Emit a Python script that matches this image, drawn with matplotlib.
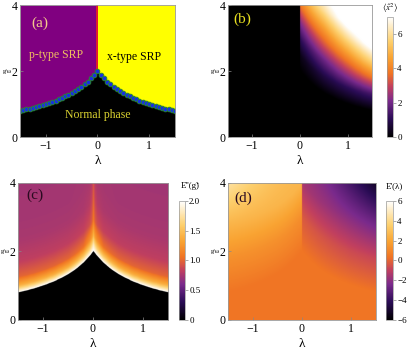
import numpy as np
import matplotlib
matplotlib.use("Agg")
import matplotlib.pyplot as plt
from matplotlib.colors import LinearSegmentedColormap

plt.rcParams['font.family'] = ['Liberation Serif', 'DejaVu Serif']
plt.rcParams['mathtext.fontset'] = 'stix'

# phase boundary g_c(lambda), lambda >= 0 (mirror for lambda < 0)
lam_half = [0, 0.0625, 0.125, 0.1875, 0.25, 0.3125, 0.375, 0.4375, 0.5, 0.5625, 0.625,
            0.6875, 0.75, 0.8125, 0.875, 0.9375, 1.0, 1.0625, 1.125, 1.1875, 1.25,
            1.3125, 1.375, 1.4375, 1.5]
g_half = [2.00, 1.88, 1.78, 1.68, 1.60, 1.52, 1.45, 1.39, 1.33, 1.28, 1.23,
          1.19, 1.14, 1.10, 1.07, 1.03, 1.00, 0.97, 0.94, 0.91, 0.89,
          0.86, 0.84, 0.82, 0.80]

# (b) <x^2> in the x-type phase: rows = height above boundary, cols = lambda
b_lam = [0, 0.5, 1.0, 1.5]
b_h = [0, 0.5, 1.0, 1.5, 2.0, 2.5, 3.2]
b_val = [[0.0, 0.0, 0.0, 0.0],
         [0.3, 0.8, 1.1, 1.4],
         [1.1, 1.9, 2.8, 3.7],
         [2.2, 3.3, 4.4, 5.7],
         [3.7, 4.6, 6.0, 7.4],
         [5.0, 6.0, 7.5, 8.5],
         [6.5, 7.5, 8.5, 9.5]]

# (c) E''(g): rows = height above boundary, cols = |lambda|
c_lam = [0, 0.03, 0.08, 0.2, 0.5, 1.5]
c_h = [0, 0.2, 0.45, 0.9, 1.5, 2.1, 3.3]
c_val = [[2.0, 2.0, 2.0, 2.0, 2.0, 2.0],
         [1.8, 1.7, 1.6, 1.5, 1.4, 1.4],
         [1.45, 1.3, 1.2, 1.05, 1.0, 1.0],
         [1.1, 0.97, 0.9, 0.85, 0.83, 0.83],
         [1.0, 0.87, 0.8, 0.77, 0.76, 0.76],
         [0.92, 0.8, 0.76, 0.75, 0.74, 0.74],
         [0.88, 0.77, 0.75, 0.74, 0.73, 0.73]]

# (d) E'(lambda): rows = height above boundary, cols = lambda
d_lam = [-1.5, -1.0, -0.5, -0.001, 0.001, 0.5, 1.0, 1.5]
d_h = [0, 1.0, 2.0, 3.2]
d_val = [[0.4, 0.4, 0.4, 0.4, 0.4, 0.4, 0.4, 0.4],
         [1.3, 1.3, 1.3, 1.2, -0.3, -0.5, -0.7, -0.8],
         [2.6, 2.6, 2.6, 2.6, -1.5, -1.8, -2.2, -2.6],
         [4.5, 3.8, 3.2, 2.8, -2.0, -2.8, -4.0, -5.2]]

cb_ticks_b = [0, 2, 4, 6]
cb_ticks_c = [0, 0.5, 1.0, 1.5, 2.0]
cb_ticks_d = [-6, -4, -2, 0, 2, 4, 6]

sunset = LinearSegmentedColormap.from_list('sunset', [
    (0.0, '#000000'), (0.15, '#2a0c55'), (0.3, '#7a2a8c'), (0.42, '#c2405e'),
    (0.53, '#f07424'), (0.66, '#f9a332'), (0.8, '#fdd06e'), (1.0, '#ffffff')])

lam_b = np.array(lam_half)
g_b = np.array(g_half)
lam_full = np.concatenate([-lam_b[::-1], lam_b[1:]])
g_full = np.concatenate([g_b[::-1], g_b[1:]])

# grid for the density plots
L, G = np.meshgrid(np.linspace(-1.5, 1.5, 601), np.linspace(0, 4, 501))
H = G - np.interp(np.abs(L), lam_b, g_b)


def table_field(lam_coord, cols, rows, table):
    table = np.array(table)
    per_col = np.array([np.interp(H, rows, table[:, j]) for j in range(len(cols))])
    t = np.interp(lam_coord, cols, np.arange(len(cols)))
    i0 = np.clip(np.floor(t).astype(int), 0, len(cols) - 2)
    w = t - i0
    a = np.take_along_axis(per_col, i0[None], 0)[0]
    b = np.take_along_axis(per_col, (i0 + 1)[None], 0)[0]
    return a * (1 - w) + b * w


field_b = np.where(L > 0, table_field(L, b_lam, b_h, b_val), 0.0)
field_c = np.where(H > 0, table_field(np.abs(L), c_lam, c_h, c_val), 0.0)
field_d = table_field(L, d_lam, d_h, d_val)

fig = plt.figure(figsize=(4.07, 3.48), dpi=100)
ax_a = fig.add_axes([0.0491, 0.6063, 0.3808, 0.3793])
ax_b = fig.add_axes([0.5602, 0.6063, 0.3538, 0.3793])
ax_c = fig.add_axes([0.0442, 0.0805, 0.3686, 0.3937])
ax_d = fig.add_axes([0.5602, 0.0805, 0.3636, 0.3937])
cax_b = fig.add_axes([0.951, 0.6063, 0.0147, 0.345])
cax_c = fig.add_axes([0.4398, 0.0805, 0.0147, 0.342])
cax_d = fig.add_axes([0.9484, 0.0805, 0.0172, 0.342])

# (a) phase diagram
left = lam_full <= 0
right = lam_full >= 0
ax_a.fill_between(lam_full[left], g_full[left], 4, color='#800080', lw=0)
ax_a.fill_between(lam_full[right], g_full[right], 4, color='#ffff00', lw=0)
ax_a.fill_between(lam_full, 0, g_full, color='black', lw=0)
ax_a.plot([0, 0], [g_b[0], 4], color='#e8202a', lw=1.3)
ax_a.plot(lam_full, g_full, color='#2a9a2a', lw=1.0)
ax_a.plot(lam_full, g_full, 'o', ms=3.4, mfc='#1830e0', mec='#2a8a2a', mew=0.6)
ax_a.text(-0.81, 2.47, 'p-type SRP', color='#f0c060', fontsize=8.5, ha='center', va='center')
ax_a.text(0.71, 2.43, 'x-type SRP', color='black', fontsize=8.5, ha='center', va='center')
ax_a.text(0.0, 0.67, 'Normal phase', color='#d8d030', fontsize=8.5, ha='center', va='center')
ax_a.text(0.13, 0.86, '(a)', color='#f3c98b', fontsize=11, ha='center', va='center',
          transform=ax_a.transAxes)

ext = [-1.5, 1.5, 0, 4]
im_b = ax_b.imshow(field_b, extent=ext, origin='lower', aspect='auto', cmap=sunset,
                   vmin=0, vmax=7)
ax_b.text(0.1, 0.89, '(b)', color='#e8e020', fontsize=11, ha='center', va='center',
          transform=ax_b.transAxes)
im_c = ax_c.imshow(field_c, extent=ext, origin='lower', aspect='auto', cmap=sunset,
                   vmin=0, vmax=2)
ax_c.text(0.11, 0.91, '(c)', color='#2a0a20', fontsize=11, ha='center', va='center',
          transform=ax_c.transAxes)
im_d = ax_d.imshow(field_d, extent=ext, origin='lower', aspect='auto', cmap=sunset,
                   vmin=-6, vmax=6)
ax_d.text(0.10, 0.89, '(d)', color='#2a0a20', fontsize=11, ha='center', va='center',
          transform=ax_d.transAxes)

for ax in [ax_a, ax_b, ax_c, ax_d]:
    ax.set_xlim(-1.5, 1.5)
    ax.set_ylim(0, 4)
    ax.set_xticks([-1, 0, 1])
    ax.set_yticks([0, 2, 4])
    ax.set_xticklabels(['\u22121', '0', '1'])
    ax.tick_params(direction='in', length=2.5, width=0.5, labelsize=8.5, pad=2, color='#888888')
    for s in ax.spines.values():
        s.set_color('#999999')
        s.set_linewidth(0.6)
    ax.set_xlabel('\u03bb', fontsize=9.5, labelpad=2)
    ax.set_ylabel('g/\u03c9', fontsize=4.5, rotation=0, ha='right', va='center')
    ax.yaxis.set_label_coords(-0.055, 0.5)

for cax, im, tk, fmt in [(cax_b, im_b, cb_ticks_b, '{:g}'), (cax_c, im_c, cb_ticks_c, '{:.1f}'),
                         (cax_d, im_d, cb_ticks_d, '{:g}')]:
    cb = fig.colorbar(im, cax=cax, ticks=tk)
    labels = [fmt.format(t).replace('-', '\u2212') for t in tk]
    if fmt == '{:.1f}':
        labels[0] = '0'
    cb.set_ticklabels(labels)
    cb.outline.set_edgecolor('#999999')
    cb.outline.set_linewidth(0.5)
    cax.tick_params(length=2, width=0.5, labelsize=6.5, pad=1, color='#888888')

fig.text(0.958, 0.975, r'$\langle\hat{x}^2\rangle$', fontsize=6.5, ha='center', va='center')
fig.text(0.443, 0.466, "E''(g\u0303)", fontsize=6.5, ha='left', va='center')
fig.text(0.947, 0.466, "E'(\u03bb)", fontsize=6.5, ha='left', va='center')

fig.savefig('out.png', dpi=100)
